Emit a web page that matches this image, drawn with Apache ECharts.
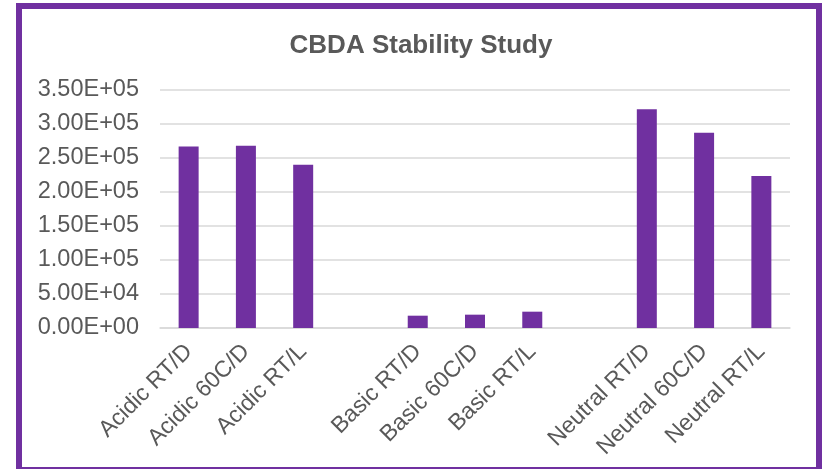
<!DOCTYPE html>
<html>
<head>
<meta charset="utf-8">
<script src="https://cdn.jsdelivr.net/npm/echarts@6/dist/echarts.min.js"></script>
<style>
  html, body { margin: 0; padding: 0; background: #fff; }
  #chart { width: 823px; height: 469px; }
</style>
</head>
<body>
<div id="chart"></div>
<script>
// Sample conditions; empty names leave a gap between the pH groups
const categories = [
  'Acidic RT/D', 'Acidic 60C/D', 'Acidic RT/L', '',
  'Basic RT/D', 'Basic 60C/D', 'Basic RT/L', '',
  'Neutral RT/D', 'Neutral 60C/D', 'Neutral RT/L'
];
// Measured CBDA response per condition ('-' = gap slot)
const cbdaValues = [
  267000, 268000, 240000, '-',
  18100, 19600, 24000, '-',
  321600, 287000, 223500
];
const yMin = 0;
const yMax = 350000;
const yStep = 50000;

const FONT = "'Liberation Sans', Arial, sans-serif";
const TEXT = '#595959';
const PURPLE = '#7030a0';

// 350000 -> "3.50E+05"
function sci(v) {
  const [m, e] = Number(v).toExponential(2).split('e');
  const n = parseInt(e, 10);
  return m + 'E' + (n < 0 ? '-' : '+') + String(Math.abs(n)).padStart(2, '0');
}

const chart = echarts.init(document.getElementById('chart'), null, { renderer: 'canvas' });
chart.setOption({
  animation: false,
  backgroundColor: '#ffffff',
  title: {
    text: 'CBDA Stability Study',
    left: 416,
    top: 28,
    textAlign: 'center',
    textStyle: { fontFamily: FONT, fontSize: 26, fontWeight: 'bold', color: TEXT }
  },
  grid: { left: 160, right: 33, top: 90, bottom: 141, containLabel: false },
  xAxis: {
    type: 'category',
    data: categories,
    axisLine: { show: true, lineStyle: { color: '#d9d9d9', width: 1.5 } },
    axisTick: { show: false },
    axisLabel: {
      rotate: 45,
      interval: 0,
      margin: 20,
      fontFamily: FONT,
      fontSize: 23,
      color: TEXT
    }
  },
  yAxis: {
    type: 'value',
    min: yMin,
    max: yMax,
    interval: yStep,
    axisLine: { show: false },
    axisTick: { show: false },
    splitLine: { lineStyle: { color: '#d9d9d9', width: 1.5 } },
    axisLabel: {
      margin: 21,
      fontFamily: FONT,
      fontSize: 23.5,
      color: TEXT,
      formatter: sci
    }
  },
  series: [{
    type: 'bar',
    data: cbdaValues,
    barWidth: 20,
    itemStyle: { color: PURPLE }
  }],
  graphic: [{
    type: 'rect',
    shape: { x: 19, y: 6, width: 800, height: 464 },
    style: { fill: 'none', stroke: PURPLE, lineWidth: 6 },
    silent: true,
    z: 100
  }]
});
</script>
</body>
</html>
